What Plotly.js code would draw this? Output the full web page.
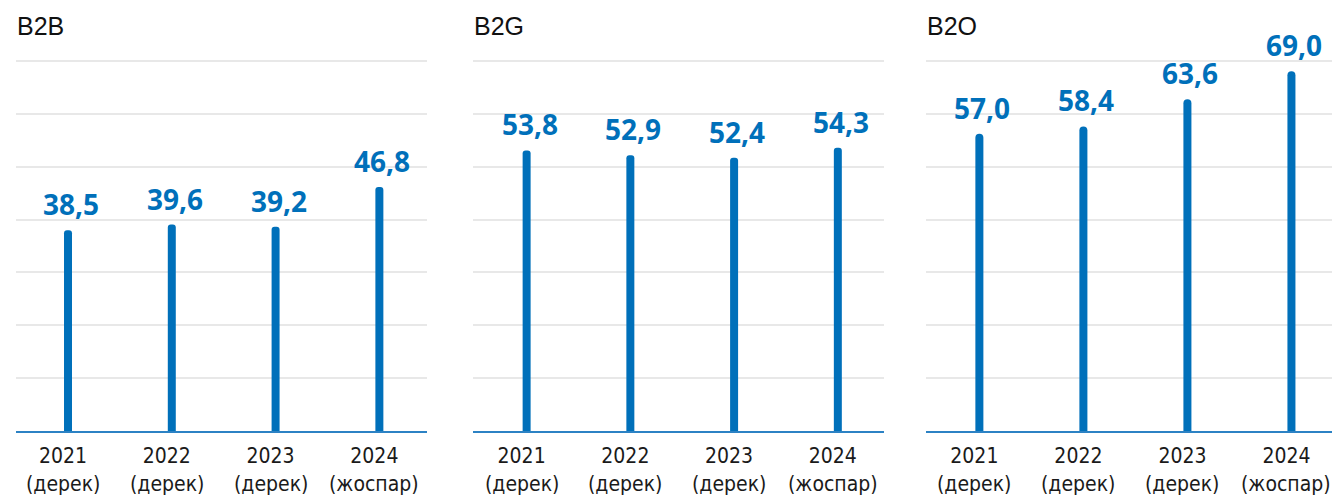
<!DOCTYPE html>
<html>
<head>
<meta charset="utf-8">
<script src="https://cdn.plot.ly/plotly-3.0.1.min.js"></script>
<style>
html,body{margin:0;padding:0;background:#fff;}
#chart{width:1332px;height:499px;}
</style>
</head>
<body>
<div id="chart"></div>
<script>
// ---- data ----
const years = ["2021", "2022", "2023", "2024"];
const yearStatus = ["(дерек)", "(дерек)", "(дерек)", "(жоспар)"];
const panelTitles = ["B2B", "B2G", "B2O"];
const b2bValues = [38.5, 39.6, 39.2, 46.8];
const b2gValues = [53.8, 52.9, 52.4, 54.3];
const b2oValues = [57.0, 58.4, 63.6, 69.0];

// ---- style ----
const barColor = "#0070ba";
const baseColor = "#2c82c4";
const gridColor = "#e8e8e8";
const valueFont = "'Open Sans', 'Noto Sans', sans-serif";
const tickFont = "'DejaVu Sans Condensed', 'Liberation Sans Narrow', sans-serif";
const titleFont = "'Liberation Sans', Arial, sans-serif";
const W = 1332, H = 499;
const baseY = 431.3, gridTopY = 60.7, domTopY = 58.7;
const yDom = [(H - baseY) / H, (H - domTopY) / H];
const xDoms = [[15.7 / W, 426.7 / W], [473.3 / W, 884 / W], [925.7 / W, 1]];
const xRanges = [[-0.504, 3.456], [-0.514, 3.445], [-0.516, 3.39]];
const gridMax = 71;
const yTop = gridMax * (baseY - domTopY) / (baseY - gridTopY);
const labelShift = -5;

const series = [b2bValues, b2gValues, b2oValues];
const fmt = v => v.toFixed(1).replace(".", ",");

const traces = [];
const annotations = [];
const layout = {
  width: W, height: H,
  margin: {l: 0, r: 0, t: 0, b: 0},
  paper_bgcolor: "#fff", plot_bgcolor: "#fff",
  showlegend: false,
  font: {family: tickFont, color: "#1a1a1a"},
  annotations: annotations
};

series.forEach((vals, i) => {
  const n = i === 0 ? "" : String(i + 1);
  traces.push({
    type: "bar",
    x: years,
    y: vals,
    xaxis: "x" + n,
    yaxis: "y" + n,
    width: 0.077,
    marker: {color: barColor, cornerradius: 4},
    hoverinfo: "skip"
  });
  layout["xaxis" + n] = {
    domain: xDoms[i],
    anchor: "y" + n,
    type: "category",
    range: xRanges[i],
    showgrid: false,
    zeroline: false,
    showline: true,
    linecolor: baseColor,
    linewidth: 2,
    ticks: "",
    tickfont: {family: tickFont, size: 21, color: "#1a1a1a"},
    ticklabelstandoff: 4,
    ticklabelshift: labelShift,
    fixedrange: true
  };
  layout["yaxis" + n] = {
    domain: yDom,
    anchor: "x" + n,
    range: [0, yTop],
    tick0: 0,
    dtick: gridMax / 7,
    showgrid: true,
    gridcolor: gridColor,
    gridwidth: 2,
    zeroline: false,
    showticklabels: false,
    ticks: "",
    fixedrange: true
  };
  annotations.push({
    xref: "paper", yref: "paper",
    x: xDoms[i][0] - 1 / W, y: (H - 42) / H,
    xanchor: "left", yanchor: "bottom",
    text: panelTitles[i],
    showarrow: false,
    font: {family: titleFont, size: 25, color: "#111"}
  });
  // category axis: annotation positions use the category index
  yearStatus.forEach((s, k) => {
    annotations.push({
      xref: "x" + n, yref: "paper",
      x: k, y: (H - 498) / H,
      xshift: labelShift,
      text: s,
      showarrow: false,
      xanchor: "center", yanchor: "bottom",
      font: {family: tickFont, size: 21, color: "#1a1a1a"}
    });
  });
  vals.forEach((v, k) => {
    annotations.push({
      xref: "x" + n, yref: "y" + n,
      x: k, y: v,
      text: fmt(v),
      showarrow: false,
      yanchor: "bottom",
      yshift: 5,
      xshift: 3,
      font: {family: valueFont, size: 28, color: barColor, weight: 700}
    });
  });
});

Plotly.newPlot("chart", traces, layout, {displayModeBar: false, staticPlot: true});
</script>
</body>
</html>
